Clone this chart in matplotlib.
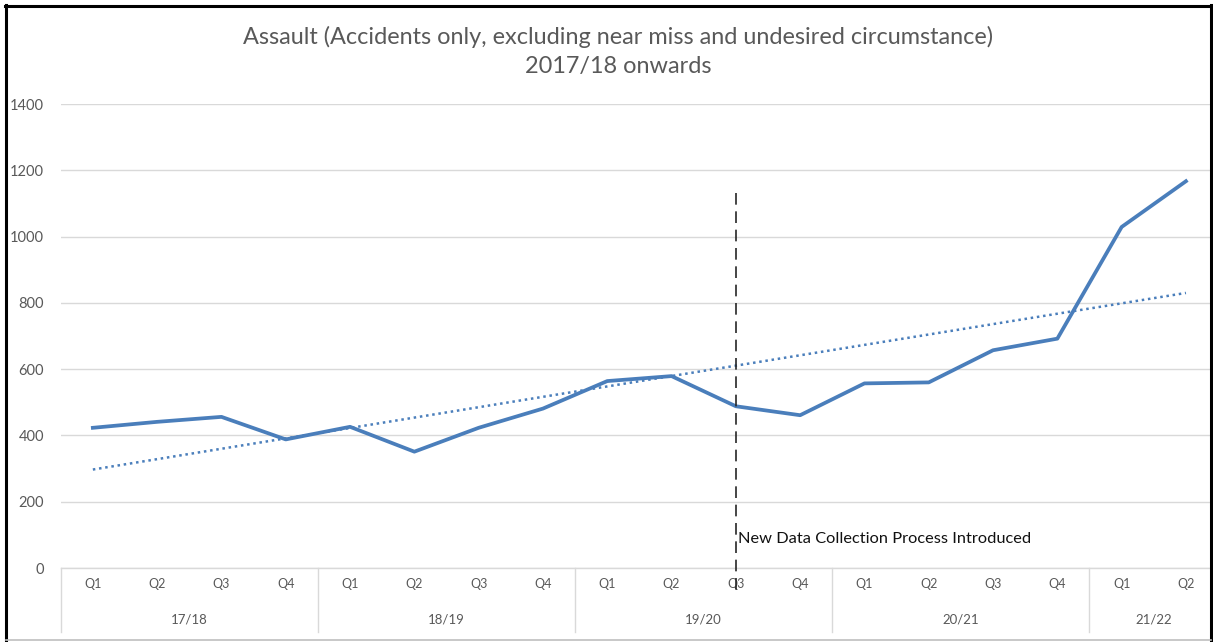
import numpy as np
import matplotlib
matplotlib.use("Agg")
import matplotlib.pyplot as plt
from matplotlib.lines import Line2D
from matplotlib.transforms import blended_transform_factory

plt.rcParams['font.family'] = ['Lato', 'DejaVu Sans']

# Quarterly assault counts
years = ["17/18", "18/19", "19/20", "20/21", "21/22"]
quarters_per_year = [4, 4, 4, 4, 2]
quarter_labels = ["Q1", "Q2", "Q3", "Q4"] * 4 + ["Q1", "Q2"]
assaults = [423, 441, 456, 388, 426, 351, 423, 481, 564, 579,
            488, 461, 557, 560, 657, 692, 1029, 1167]
y_ticks = [0, 200, 400, 600, 800, 1000, 1200, 1400]

marker_index = 10  # 19/20 Q3
marker_top = 1130
marker_text = "New Data Collection Process Introduced"

W, H = 1215, 642
fig = plt.figure(figsize=(W / 100, H / 100), dpi=100)

def px_box(x0, y0, x1, y1):
    return [x0 / W, 1 - y1 / H, (x1 - x0) / W, (y1 - y0) / H]

ax = fig.add_axes(px_box(60.7, 104, 60.7 + 18 * 64.3, 568))
x = np.arange(len(assaults))
blue = "#4A7EBB"
grey_txt = "#595959"

ax.set_xlim(-0.5, 17.5)
ax.set_ylim(0, 1400)
ax.set_yticks(y_ticks)
ax.set_yticklabels([str(v) for v in y_ticks], color=grey_txt, fontsize=10.5)
ax.tick_params(axis='y', length=0, pad=12)
ax.set_xticks([])
for s in ax.spines.values():
    s.set_visible(False)
ax.grid(axis='y', color="#D9D9D9", linewidth=1.0)
ax.set_axisbelow(True)

# main series and linear trend
ax.plot(x, assaults, color=blue, linewidth=2.7, solid_joinstyle='round', zorder=3)
slope, intercept = np.polyfit(x, assaults, 1)
ax.plot(x, slope * x + intercept, color=blue, linewidth=1.8,
        linestyle=(0, (1, 1.5)), zorder=2)

# category axis: two-level labels
tr = blended_transform_factory(ax.transData, ax.transAxes)
ah = 464.0
ax.plot([-0.5, 17.5], [0, 0], transform=tr, color="#D9D9D9", linewidth=1, clip_on=False)
for i, lab in enumerate(quarter_labels):
    ax.text(i, -16 / ah, lab, transform=tr, ha='center', va='center',
            fontsize=9, color=grey_txt)
start = 0
bounds = [-0.5]
for yr, n in zip(years, quarters_per_year):
    ax.text(start + (n - 1) / 2, -51 / ah, yr, transform=tr, ha='center',
            va='center', fontsize=9.5, color=grey_txt)
    start += n
    bounds.append(start - 0.5)
for b in bounds[:-1]:
    ax.plot([b, b], [0, -64 / ah], transform=tr, color="#D9D9D9",
            linewidth=1, clip_on=False)

# process change marker
ax.plot([marker_index, marker_index], [marker_top, -81],
        color="#262626", linewidth=1.2, linestyle=(0, (7, 4)),
        clip_on=False, zorder=4)
ax.text(marker_index + 0.03, 87, marker_text, ha='left', va='center',
        fontsize=11.8, color="#111111", zorder=5)

# title
fig.text(618 / W, 1 - 37 / H,
         "Assault (Accidents only, excluding near miss and undesired circumstance)",
         ha='center', va='center', fontsize=16.9, color=grey_txt)
fig.text(618 / W, 1 - 67 / H, "2017/18 onwards", ha='center', va='center',
         fontsize=16.9, color=grey_txt)

# frame around the chart
def fline(xs, ys, color, lw):
    fig.add_artist(Line2D([v / W for v in xs], [1 - v / H for v in ys],
                          transform=fig.transFigure, color=color, linewidth=lw))

fig.patches.append(plt.Rectangle((1212.5 / W, 0), 3 / W, 1, transform=fig.transFigure,
                                 facecolor='white', edgecolor='none', zorder=9))
fline([6, 6], [5, 642], "black", 2.2)
fline([5, 1212], [6, 6], "black", 2.2)
fline([1211, 1211], [5, 642], "black", 2.2)
fline([6, 1211], [639.5, 639.5], "#BFBFBF", 1.2)

fig.savefig("out.png", dpi=100, facecolor="white")
